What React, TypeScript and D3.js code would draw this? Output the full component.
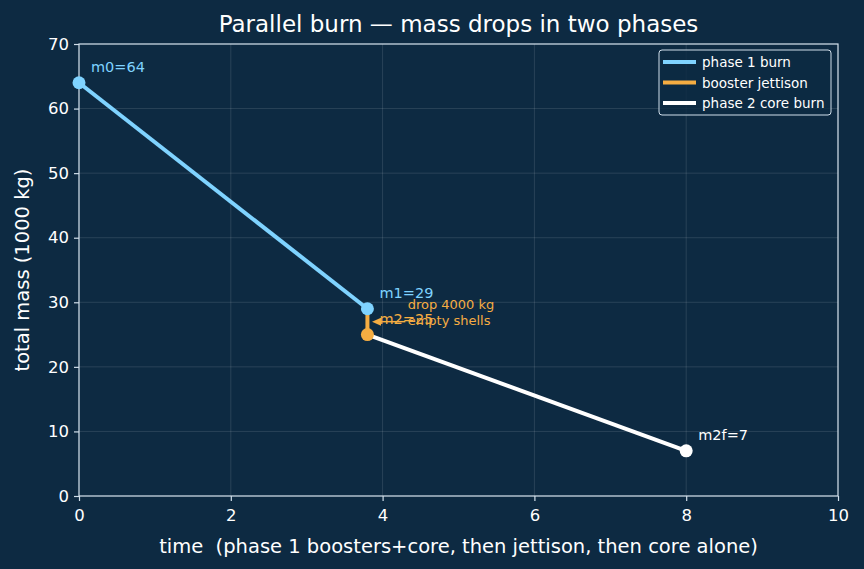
import React, { useEffect, useRef } from 'react';
import * as d3 from 'd3';

// phase 1: boosters + core burning
const phase1T = [0, 3.8];
const phase1M = [64, 29];
// jettison of booster shells
const jettisonT = [3.8, 3.8];
const jettisonM = [29, 25];
// phase 2: core alone
const phase2T = [3.8, 8];
const phase2M = [25, 7];

const pointLabels = [
  { t: 0, m: 64, text: 'm0=64', color: '#7fd3ff' },
  { t: 3.8, m: 29, text: 'm1=29', color: '#7fd3ff' },
  { t: 3.8, m: 25, text: 'm2=25', color: '#f5ad42' },
  { t: 8, m: 7, text: 'm2f=7', color: '#ffffff' },
];

const xTicks = [0, 2, 4, 6, 8, 10];
const yTicks = [0, 10, 20, 30, 40, 50, 60, 70];

const BG = '#0d2a42';
const BLUE = '#7fd3ff';
const ORANGE = '#f5ad42';
const SPINE = '#d0deea';

const App = () => {
  const svgRef = useRef(null);

  useEffect(() => {
    const W = 864, H = 569;
    const margin = { top: 44, right: 26, bottom: 73, left: 79 };
    const width = W - margin.left - margin.right;
    const height = H - margin.top - margin.bottom;

    const root = d3.select(svgRef.current);
    root.selectAll('*').remove();
    root.attr('width', W).attr('height', H)
      .style('font-family', '"DejaVu Sans", sans-serif');

    root.append('rect').attr('width', W).attr('height', H).attr('fill', BG);

    const svg = root.append('g').attr('transform', `translate(${margin.left},${margin.top})`);

    const x = d3.scaleLinear().domain([0, 10]).range([0, width]);
    const y = d3.scaleLinear().domain([0, 70]).range([height, 0]);

    // grid
    svg.selectAll('.gx').data(xTicks).enter().append('line')
      .attr('x1', d => x(d)).attr('x2', d => x(d)).attr('y1', 0).attr('y2', height)
      .attr('stroke', '#ffffff').attr('stroke-opacity', 0.15).attr('stroke-width', 0.8);
    svg.selectAll('.gy').data(yTicks).enter().append('line')
      .attr('y1', d => y(d)).attr('y2', d => y(d)).attr('x1', 0).attr('x2', width)
      .attr('stroke', '#ffffff').attr('stroke-opacity', 0.15).attr('stroke-width', 0.8);

    // axes
    const xAxis = svg.append('g').attr('transform', `translate(0,${height})`)
      .call(d3.axisBottom(x).tickValues(xTicks).tickSize(5).tickPadding(8).tickFormat(d3.format('d')));
    const yAxis = svg.append('g')
      .call(d3.axisLeft(y).tickValues(yTicks).tickSize(5).tickPadding(5).tickFormat(d3.format('d')));
    [xAxis, yAxis].forEach(a => {
      a.select('.domain').remove();
      a.selectAll('line').attr('stroke', SPINE).attr('stroke-width', 1.2);
      a.selectAll('text').attr('fill', '#ffffff').style('font-size', '16.5px')
        .style('font-family', '"DejaVu Sans", sans-serif');
    });

    // spines
    svg.append('rect').attr('width', width).attr('height', height)
      .attr('fill', 'none').attr('stroke', SPINE).attr('stroke-width', 1.2);

    const line = d3.line().x(d => x(d[0])).y(d => y(d[1]));

    const series = [
      { t: phase1T, m: phase1M, color: BLUE },
      { t: jettisonT, m: jettisonM, color: ORANGE },
      { t: phase2T, m: phase2M, color: '#ffffff' },
    ];
    series.forEach(s => {
      const pts = s.t.map((t, i) => [t, s.m[i]]);
      svg.append('path').datum(pts).attr('d', line)
        .attr('fill', 'none').attr('stroke', s.color).attr('stroke-width', 4);
    });

    // markers
    const markers = [
      { t: phase1T[0], m: phase1M[0], color: BLUE },
      { t: phase1T[1], m: phase1M[1], color: BLUE },
      { t: jettisonT[1], m: jettisonM[1], color: ORANGE },
      { t: phase2T[1], m: phase2M[1], color: '#ffffff' },
    ];
    svg.selectAll('.mk').data(markers).enter().append('circle')
      .attr('cx', d => x(d.t)).attr('cy', d => y(d.m)).attr('r', 6.5)
      .attr('fill', d => d.color);

    // point labels
    svg.selectAll('.pl').data(pointLabels).enter().append('text')
      .attr('x', d => x(d.t) + 12).attr('y', d => y(d.m) - 11)
      .attr('fill', d => d.color).style('font-size', '14.5px')
      .text(d => d.text);

    // jettison annotation
    const ax0 = x(4.3), ax1 = x(3.86), ay = y(27);
    svg.append('line').attr('x1', ax0).attr('x2', ax1 + 4).attr('y1', ay).attr('y2', ay)
      .attr('stroke', ORANGE).attr('stroke-width', 1.5);
    svg.append('path')
      .attr('d', `M${ax1},${ay} L${ax1 + 9},${ay - 4} L${ax1 + 9},${ay + 4} Z`)
      .attr('fill', ORANGE);
    const ann = svg.append('text').attr('x', x(4.33)).attr('y', y(28.9))
      .attr('fill', ORANGE).style('font-size', '13px');
    ann.append('tspan').attr('x', x(4.33)).text('drop 4000 kg');
    ann.append('tspan').attr('x', x(4.33)).attr('dy', 16).text('empty shells');

    // legend
    const lg = root.append('g').attr('transform', 'translate(659,50)');
    lg.append('rect').attr('width', 172).attr('height', 65).attr('rx', 3)
      .attr('fill', BG).attr('fill-opacity', 0.8).attr('stroke', SPINE).attr('stroke-width', 1);
    const legendItems = [
      { label: 'phase 1 burn', color: BLUE },
      { label: 'booster jettison', color: ORANGE },
      { label: 'phase 2 core burn', color: '#ffffff' },
    ];
    legendItems.forEach((it, i) => {
      const yy = 12 + i * 20.5;
      lg.append('line').attr('x1', 4).attr('x2', 37).attr('y1', yy).attr('y2', yy)
        .attr('stroke', it.color).attr('stroke-width', 4);
      lg.append('text').attr('x', 43).attr('y', yy + 5).attr('fill', '#ffffff')
        .style('font-size', '13.5px').text(it.label);
    });

    // title and axis labels
    root.append('text').attr('x', margin.left + width / 2).attr('y', 32)
      .attr('text-anchor', 'middle').attr('fill', '#ffffff').style('font-size', '23px')
      .text('Parallel burn — mass drops in two phases');
    root.append('text').attr('x', margin.left + width / 2).attr('y', 553)
      .attr('text-anchor', 'middle').attr('fill', '#ffffff').style('font-size', '19.5px')
      .text('time  (phase 1 boosters+core, then jettison, then core alone)')
      .style('white-space', 'pre');
    root.append('text')
      .attr('transform', `translate(29,${margin.top + height / 2}) rotate(-90)`)
      .attr('text-anchor', 'middle').attr('fill', '#ffffff').style('font-size', '19.5px')
      .text('total mass (1000 kg)');
  }, []);

  return (
    <svg ref={svgRef} style={{ position: 'absolute', left: 0, top: 0, display: 'block' }}></svg>
  );
};

export default App;
